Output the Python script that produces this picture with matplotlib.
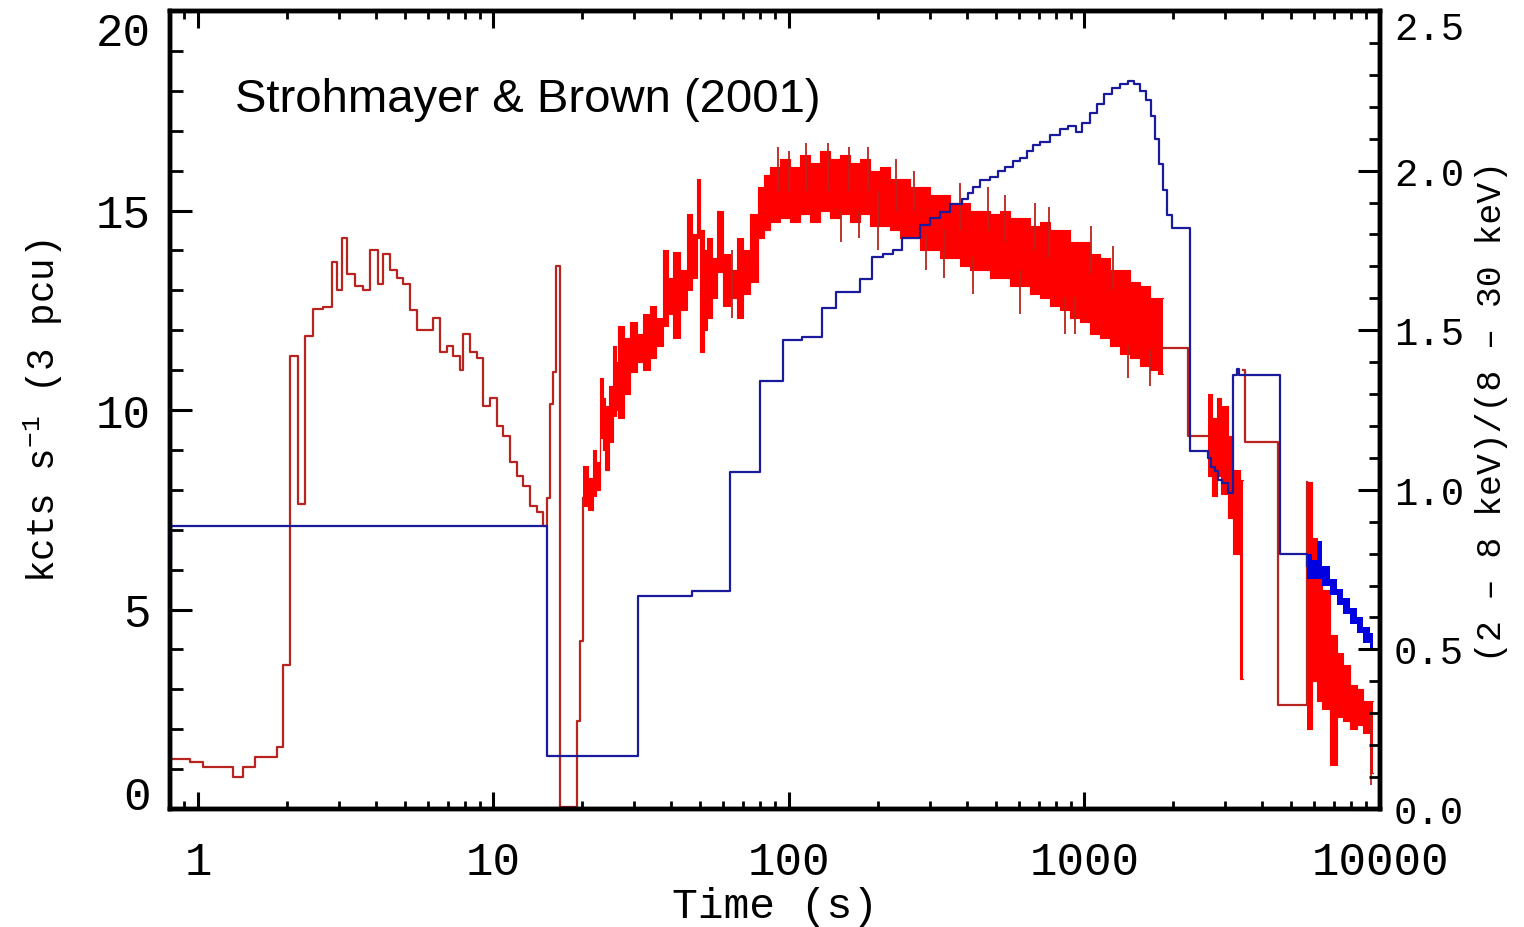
import matplotlib.pyplot as plt
from matplotlib.ticker import MultipleLocator, NullFormatter, LogLocator

# ---------------- data ----------------
# count rate (kcts/s), sparse histogram parts, step 'post'
lc1_t = [0.804, 0.806, 0.94, 1.04, 1.31, 1.42, 1.56, 1.85, 1.94, 2.05, 2.18, 2.30, 2.45,
         2.65, 2.84, 2.95, 3.07, 3.19, 3.40, 3.61, 3.82, 4.05, 4.23, 4.47, 4.71, 4.94,
         5.21, 5.51, 5.95, 6.24, 6.59, 6.96, 7.29, 7.70, 7.88, 8.32, 8.79, 9.21, 9.73,
         10.3, 10.8, 11.4, 12.0, 12.6, 13.3, 14.0, 14.7, 15.2, 15.5, 15.9, 16.3, 16.8,
         19.2, 19.6, 20.1]
lc1_v = [0.0, 1.25, 1.18, 1.05, 0.8, 1.05, 1.3, 1.55, 3.6, 11.35, 7.64, 11.86, 12.53,
         12.58, 13.7, 13.0, 14.3, 13.4, 13.1, 13.0, 14.0, 13.15, 13.9, 13.5, 13.3, 13.15,
         12.5, 12.0, 12.0, 12.3, 11.45, 11.6, 11.35, 11.0, 11.9, 11.45, 11.3, 10.1, 10.3,
         9.6, 9.35, 8.7, 8.35, 8.1, 7.6, 7.45, 7.1, 7.8, 10.15, 10.95, 13.6, 0.05,
         2.2, 4.2, 7.8]

lc2_t = [1845, 2240, 2618]
lc2_v = [11.55, 9.35, 9.35]

lc3_t = [3440, 3480, 4515, 5663]
lc3_v = [11.0, 9.2, 2.6, 8.2]

# dense, rapidly varying parts: lower / upper envelope
band1_t = [20.1, 20.9, 21.7, 22.3, 22.9, 23.4, 23.9, 24.6, 25.4, 25.9, 26.4, 27.6, 29.0,
           30.5, 32.0, 33.9, 35.6, 37.5, 39.0, 40.5, 42.8, 45.2, 47.0, 48.8, 50.0, 51.4,
           52.8, 55.0, 57.1, 59.8, 63.0, 66.7, 70.0, 73.8, 78.6, 82.0,
           86.2, 93.2, 100.8, 108.9, 117.7, 127.3, 137.6, 148.8, 160.8, 173.8, 187.9,
           203.2, 219.7, 237.5, 256.7, 277.5, 300.0, 324.4, 350.6, 379.1, 409.8, 443.0,
           478.9, 517.7, 559.7, 605.0, 654.1, 707.1, 764.4, 826.3, 893.3, 965.7, 1044,
           1128, 1220, 1319, 1426, 1541, 1666, 1775, 1845]
band1_hi = [8.6, 8.3, 9.0, 8.7, 10.8, 10.3, 10.1, 10.6, 11.6, 11.2, 12.1, 11.8, 12.2,
            11.9, 12.4, 12.6, 12.3, 14.0, 13.3, 13.95, 13.5, 14.9, 14.4, 15.8, 14.5, 14.0,
            14.3, 13.8, 15.0, 13.9, 13.5, 14.3, 14.0, 14.9, 15.6, 15.9,
            16.1, 16.3, 16.1, 16.4, 16.2, 16.5, 16.3, 16.4, 16.2, 16.3, 16.0,
            16.1, 15.8, 15.8, 15.6, 15.6, 15.4, 15.4, 15.2, 15.2, 15.0, 15.0,
            14.9, 15.0, 14.8, 14.8, 14.6, 14.7, 14.5, 14.5, 14.2, 14.2, 13.9,
            13.8, 13.5, 13.5, 13.2, 13.1, 12.8, 12.8, 12.8]
band1_lo = [7.6, 7.5, 7.85, 8.0, 9.3, 9.0, 8.5, 9.2, 9.85, 10.0, 9.8, 10.4, 10.95,
            11.2, 11.0, 11.3, 11.6, 12.1, 12.4, 11.8, 12.5, 13.0, 13.3, 14.3, 11.45, 12.0,
            12.3, 12.8, 13.45, 12.6, 12.8, 12.3, 12.9, 13.2, 14.3, 14.5,
            14.7, 14.8, 14.7, 14.9, 14.7, 15.0, 14.8, 14.9, 14.7, 14.9, 14.6,
            14.6, 14.5, 14.3, 14.3, 14.0, 14.0, 13.8, 13.8, 13.6, 13.5, 13.5,
            13.3, 13.3, 13.1, 13.1, 12.9, 12.8, 12.6, 12.5, 12.3, 12.2, 11.9,
            11.8, 11.6, 11.4, 11.3, 11.1, 11.0, 10.9, 10.9]

band2_t = [2618, 2700, 2800, 2900, 3060, 3184, 3360, 3440]
band2_hi = [10.4, 9.8, 10.3, 10.1, 9.35, 8.5, 8.25, 8.25]
band2_lo = [8.35, 7.85, 8.35, 7.9, 7.3, 6.4, 3.25, 3.25]

band3_t = [5663, 5888, 6122, 6365, 6775, 7149, 7493, 7911, 8350, 8750, 9250, 9470]
band3_hi = [8.2, 6.8, 5.8, 5.5, 4.35, 3.9, 3.6, 3.1, 3.0, 2.7, 2.7, 2.7]
band3_lo = [2.0, 3.2, 2.7, 2.5, 1.1, 2.3, 2.2, 2.0, 2.1, 1.9, 0.9, 0.9]

# single spikes sticking out of the dense parts
spike_t = [64, 92, 100, 114, 135, 150, 160, 172, 185, 200, 230, 265, 290, 335, 380, 420,
           470, 540, 605, 680, 760, 860, 930, 1050, 1250, 1400, 1666, 9300]
spike_lo = [12.3, 15.5, 15.5, 15.5, 15.5, 14.2, 15.5, 14.3, 15.5, 14.0, 15.0, 15.0, 13.5,
            13.3, 14.5, 12.9, 14.5, 14.2, 12.4, 14.0, 13.8, 11.9, 11.9, 13.4, 13.0, 10.8,
            10.6, 0.6]
spike_hi = [14.0, 16.6, 16.5, 16.7, 16.7, 15.0, 16.6, 15.0, 16.6, 15.5, 16.3, 16.0, 14.4,
            14.5, 15.7, 13.8, 15.6, 15.4, 13.5, 15.2, 15.1, 12.8, 12.8, 14.6, 14.1, 11.6,
            11.5, 2.5]

# hardness ratio (2-8 keV)/(8-30 keV), step 'post'
hr_t = [0.804, 0.806, 0.809, 15.2, 30.8, 47.0, 63.1, 79.8, 95.4, 111, 129, 144, 174, 191,
        208, 225, 241, 277, 300, 324, 351, 385, 403, 419, 443, 479, 510, 538, 573, 605,
        639, 669, 707, 764, 826, 879, 936, 981, 1045, 1102, 1164, 1239, 1318, 1403, 1472,
        1542, 1615, 1679, 1733, 1788, 1845, 1903, 1977, 2276, 2618, 2680, 2767, 2840,
        2919, 3060, 3184, 3282, 3340, 4588, 5663]
hr_v = [1.22, 0.78, 0.887, 0.166, 0.667, 0.683, 1.056, 1.34, 1.47, 1.48, 1.57, 1.62, 1.66,
        1.73, 1.74, 1.75, 1.79, 1.83, 1.85, 1.87, 1.895, 1.91, 1.93, 1.95, 1.97, 1.98,
        2.0, 2.01, 2.03, 2.04, 2.06, 2.08, 2.09, 2.11, 2.13, 2.14, 2.12, 2.15, 2.18, 2.21,
        2.24, 2.26, 2.27, 2.28, 2.27, 2.25, 2.22, 2.17, 2.10, 2.02, 1.94, 1.86, 1.82,
        1.12, 1.10, 1.07, 1.06, 1.03, 1.02, 0.99, 1.36, 1.38, 1.36, 0.80, 0.76]

hrband_t = [5663, 5888, 6122, 6365, 6775, 7149, 7493, 7911, 8350, 8750, 9250, 9470]
hrband_hi = [0.80, 0.78, 0.84, 0.76, 0.72, 0.69, 0.66, 0.63, 0.60, 0.57, 0.55, 0.55]
hrband_lo = [0.72, 0.72, 0.72, 0.70, 0.67, 0.64, 0.61, 0.58, 0.55, 0.52, 0.50, 0.50]

x_ticks = [1, 10, 100, 1000, 10000]
x_labels = ['1', '10', '100', '1000', '10000']
y1_ticks = [0, 5, 10, 15, 20]
y1_labels = ['0', '5', '10', '15', '20']
y2_ticks = [0.0, 0.5, 1.0, 1.5, 2.0, 2.5]
y2_labels = ['0.0', '0.5', '1.0', '1.5', '2.0', '2.5']

# ---------------- plot ----------------
plt.rcParams['font.family'] = 'Liberation Mono'
plt.rcParams['mathtext.fontset'] = 'custom'
plt.rcParams['mathtext.rm'] = 'Liberation Mono'
plt.rcParams['mathtext.it'] = 'Liberation Mono'

red_line = '#b8241f'
red_fill = '#ff0000'
blue_line = '#1a1a9c'

fig = plt.figure(figsize=(15.24, 9.28), dpi=100)
ax = fig.add_axes([170/1524, 118/928, 1210/1524, 798/928])
ax.set_xscale('log')

for t, v in [(lc1_t, lc1_v), (lc2_t, lc2_v), (lc3_t, lc3_v)]:
    ax.step(t, v, where='post', color=red_line, lw=1.6)
for t, lo, hi in [(band1_t, band1_lo, band1_hi), (band2_t, band2_lo, band2_hi),
                  (band3_t, band3_lo, band3_hi)]:
    ax.fill_between(t, lo, hi, step='post', color=red_fill, lw=0)
    ax.step(t, hi, where='post', color=red_fill, lw=0.8)
    ax.step(t, lo, where='post', color=red_fill, lw=0.8)
ax.vlines(spike_t, spike_lo, spike_hi, color=red_line, lw=1.3)

ax2 = ax.twinx()
ax2.step(hr_t, hr_v, where='post', color=blue_line, lw=1.6)
ax2.fill_between(hrband_t, hrband_lo, hrband_hi, step='post', color='#0000e0', lw=0)

# axes / ticks in IDL style
for a in (ax, ax2):
    for s in a.spines.values():
        s.set_linewidth(3.2)

ax.set_xticks(x_ticks)
ax.set_xticklabels(x_labels)
ax.xaxis.set_minor_locator(LogLocator(base=10, subs=range(2, 10), numticks=20))
ax.xaxis.set_minor_formatter(NullFormatter())
ax.tick_params(axis='x', which='major', direction='in', top=True, length=12, width=2.2,
               labelsize=33, pad=22)
ax.tick_params(axis='x', which='minor', direction='in', top=True, length=6, width=2.0)

ax.set_yticks(y1_ticks)
ax.set_yticklabels(y1_labels)
ax.yaxis.set_minor_locator(MultipleLocator(1))
ax.tick_params(axis='y', which='major', direction='in', length=16, width=2.2,
               labelsize=33, pad=14)
ax.tick_params(axis='y', which='minor', direction='in', length=9, width=2.0)

ax2.set_yticks(y2_ticks)
ax2.set_yticklabels(y2_labels)
ax2.yaxis.set_minor_locator(MultipleLocator(0.1))
ax2.tick_params(axis='y', which='major', direction='in', length=16, width=2.2,
                labelsize=28, pad=10)
ax2.tick_params(axis='y', which='minor', direction='in', length=8, width=2.0)

ax.set_xlim(0.804, 10000)
ax.set_ylim(0, 20)
ax2.set_ylim(0, 2.5)

ylab = ax.get_yticklabels()
ylab[0].set_va('baseline')
ylab[-1].set_va('top')
ax2.get_yticklabels()[-1].set_va('top')

ax.set_xlabel('Time (s)', fontsize=31)
ax.xaxis.set_label_coords(0.5, -0.096)
ax.set_ylabel('kcts s$^{-1}$ (3 pcu)', fontsize=27, labelpad=22)
ax2.set_ylabel('(2 \u2013 8 keV)/(8 \u2013 30 keV)', fontsize=25, labelpad=8)

ax2.text(0.054, 0.875, 'Strohmayer & Brown (2001)', transform=ax.transAxes,
         fontsize=34, family='Liberation Sans', va='baseline')

plt.savefig('out.png', dpi=100)
